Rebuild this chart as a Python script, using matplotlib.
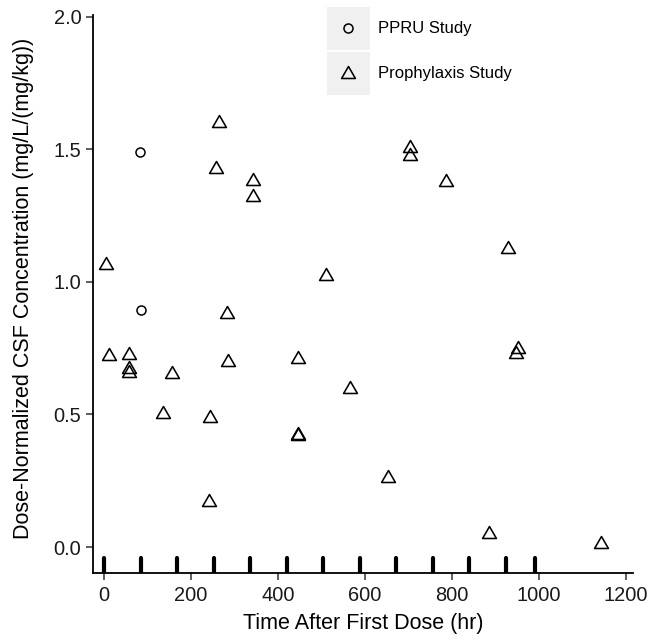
import matplotlib
matplotlib.use("Agg")
import matplotlib.pyplot as plt
from matplotlib.path import Path
from matplotlib.patches import Rectangle
from matplotlib.legend_handler import HandlerLine2D

plt.rcParams['font.family'] = ['Liberation Sans', 'DejaVu Sans']

# PPRU study samples
ppru_time = [83, 84]
ppru_conc = [1.49, 0.895]

# Prophylaxis study samples
proph_time = [265, 257, 343, 342, 5, 510, 282, 12, 58, 58, 58, 156, 284, 447,
              565, 135, 244, 447, 447, 242, 703, 703, 785, 929, 952, 947, 652,
              886, 1142]
proph_conc = [1.597, 1.427, 1.379, 1.320, 1.062, 1.021, 0.880, 0.720, 0.723,
              0.672, 0.657, 0.653, 0.698, 0.710, 0.597, 0.503, 0.486, 0.423,
              0.418, 0.169, 1.503, 1.475, 1.377, 1.125, 0.746, 0.729, 0.260,
              0.050, 0.010]

# dosing times shown along the bottom
dose_times = [0, 84, 168, 252, 336, 420, 504, 588, 672, 756, 840, 924, 990]

# equilateral triangle centred on its centroid
tri = Path([(0, 1.1547), (-1, -0.57735), (1, -0.57735), (0, 1.1547)],
           [Path.MOVETO, Path.LINETO, Path.LINETO, Path.CLOSEPOLY])


class BoxedHandler(HandlerLine2D):
    """Legend key drawn centred on a grey square."""
    def create_artists(self, legend, orig_handle, xdescent, ydescent,
                       width, height, fontsize, trans):
        box = Rectangle((-xdescent, -ydescent), width, height,
                        facecolor='#f0f0f0', edgecolor='none', transform=trans)
        arts = super().create_artists(legend, orig_handle, xdescent, ydescent,
                                      width, height, fontsize, trans)
        for a in arts:
            n = len(a.get_xdata())
            a.set_xdata([width / 2 - xdescent] * n)
            a.set_ydata([height / 2 - ydescent] * n)
        return [box] + list(arts)


fig = plt.figure(figsize=(6.51, 6.40), dpi=100)
ax = fig.add_axes([0.1433, 0.1047, 0.9724 - 0.1433, 0.9766 - 0.1047])

ax.vlines(dose_times, -0.098, -0.040, colors='black', linewidth=3.0,
          capstyle='round')

h1, = ax.plot(ppru_time, ppru_conc, linestyle='none', marker='o', ms=6.5,
              mfc='none', mec='black', mew=1.1, label='PPRU Study')
h2, = ax.plot(proph_time, proph_conc, linestyle='none', marker=tri, ms=11.5,
              mfc='none', mec='black', mew=1.15, label='Prophylaxis Study')

ax.set_xlim(-24.6, 1216)
ax.set_ylim(-0.098, 2.006)
ax.set_xticks([0, 200, 400, 600, 800, 1000, 1200])
ax.set_yticks([0.0, 0.5, 1.0, 1.5, 2.0])
ax.set_yticklabels(['0.0', '0.5', '1.0', '1.5', '2.0'])

for side in ['top', 'right']:
    ax.spines[side].set_visible(False)
for side in ['left', 'bottom']:
    ax.spines[side].set_linewidth(1.3)
ax.tick_params(axis='both', direction='out', length=5, width=1.1,
               color='#333333', labelsize=14.4, labelcolor='#1a1a1a')
ax.tick_params(axis='x', pad=4.5)
ax.tick_params(axis='y', pad=3.5)

ax.set_xlabel('Time After First Dose (hr)', fontsize=15.5)
ax.set_ylabel('Dose-Normalized CSF Concentration (mg/L/(mg/kg))',
              fontsize=15.5)
ax.xaxis.set_label_coords(0.5, -0.071)
ax.yaxis.set_label_coords(-0.110, 0.51)

ax.legend(handles=[h1, h2], handler_map={h1: BoxedHandler(numpoints=1),
                                         h2: BoxedHandler(numpoints=1)},
          loc='upper left', bbox_to_anchor=(326.7 / 651, 1 - 6.7 / 640),
          bbox_transform=fig.transFigure, frameon=False, fontsize=12,
          borderpad=0, borderaxespad=0, handlelength=2.6, handleheight=3.59,
          handletextpad=0.5, labelspacing=0.15)

fig.savefig('out.png', dpi=100)
